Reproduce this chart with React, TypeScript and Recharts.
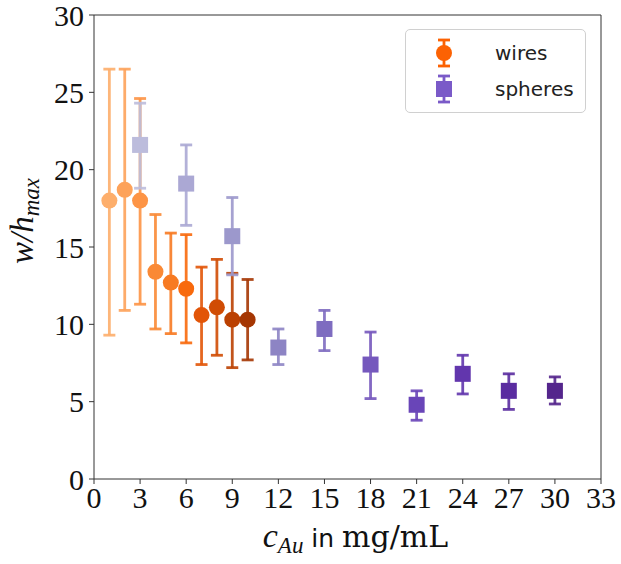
import { ScatterChart, Scatter, XAxis, YAxis, ErrorBar, ReferenceLine, Label } from "recharts";

const wiresX = [1, 2, 3, 4, 5, 6, 7, 8, 9, 10];
const wiresY = [18.0, 18.7, 18.0, 13.4, 12.7, 12.3, 10.6, 11.1, 10.3, 10.3];
const wiresLow = [9.3, 10.9, 11.3, 9.7, 9.4, 8.8, 7.4, 8.0, 7.2, 7.7];
const wiresHigh = [26.5, 26.5, 24.6, 17.1, 15.9, 15.8, 13.7, 14.2, 13.3, 12.9];
const wiresColors = ["#fdae6b", "#fda25a", "#fd9445", "#fa8935", "#f77a22", "#f8690c", "#e25508", "#d04c04", "#bb4102", "#a53603"];

const spheresX = [3, 6, 9, 12, 15, 18, 21, 24, 27, 30];
const spheresY = [21.6, 19.1, 15.7, 8.5, 9.7, 7.4, 4.8, 6.8, 5.7, 5.7];
const spheresLow = [18.8, 16.4, 13.2, 7.4, 8.3, 5.2, 3.8, 5.5, 4.5, 4.85];
const spheresHigh = [24.3, 21.6, 18.2, 9.7, 10.9, 9.5, 5.7, 8.0, 6.8, 6.6];
const spheresColors = ["#bcbcdc", "#aba8d4", "#9c98cc", "#8d84c4", "#7e6cc0", "#7558bd", "#6945b8", "#6236ad", "#5a2ca0", "#54258c"];

const xTicks = [0, 3, 6, 9, 12, 15, 18, 21, 24, 27, 30, 33];
const yTicks = [0, 5, 10, 15, 20, 25, 30];

const legendItems = [
  { name: "wires", color: "#fc6203", shape: "circle" },
  { name: "spheres", color: "#7a5ac8", shape: "square" },
];

const toPoints = (xs: number[], ys: number[], lo: number[], hi: number[]) =>
  xs.map((x, i) => ({ x, y: ys[i], err: [ys[i] - lo[i], hi[i] - ys[i]] }));

const wires = toPoints(wiresX, wiresY, wiresLow, wiresHigh);
const spheres = toPoints(spheresX, spheresY, spheresLow, spheresHigh);

const serif = "'Liberation Serif', 'Times New Roman', serif";
const axisColor = "#333";

const circleShape = (color: string) => (p: any) => <circle cx={p.cx} cy={p.cy} r={8} fill={color} />;
const squareShape = (color: string) => (p: any) => (
  <rect x={p.cx - 8} y={p.cy - 8} width={16} height={16} fill={color} />
);

const LegendIcon = ({ color, shape }: { color: string; shape: string }) => (
  <svg width={20} height={32} style={{ display: "block" }}>
    <line x1={10} y1={3} x2={10} y2={29} stroke={color} strokeWidth={2.8} />
    <line x1={4} y1={3} x2={16} y2={3} stroke={color} strokeWidth={2.8} />
    <line x1={4} y1={29} x2={16} y2={29} stroke={color} strokeWidth={2.8} />
    {shape === "circle" ? (
      <circle cx={10} cy={16} r={8} fill={color} />
    ) : (
      <rect x={2} y={8} width={16} height={16} fill={color} />
    )}
  </svg>
);

const ChartLegend = () => (
  <div
    style={{
      position: "absolute",
      left: 405,
      top: 29,
      border: "1px solid #d0d0d0",
      borderRadius: 5,
      background: "rgba(255,255,255,0.8)",
      padding: "5px 0",
      width: 181,
      boxSizing: "border-box",
    }}
  >
    {legendItems.map((it) => (
      <div key={it.name} style={{ display: "flex", alignItems: "center", height: 36 }}>
        <div style={{ width: 28 }} />
        <LegendIcon color={it.color} shape={it.shape} />
        <span style={{ marginLeft: 41, fontFamily: "'DejaVu Sans', sans-serif", fontSize: 20, color: "#222" }}>
          {it.name}
        </span>
      </div>
    ))}
  </div>
);

export default function App() {
  return (
    <div style={{ position: "absolute", left: 0, top: 0, width: 621, height: 564, background: "#fff" }}>
      <ScatterChart width={621} height={564} margin={{ top: 15, right: 20, bottom: 35, left: 34 }}>
        <XAxis
          type="number"
          dataKey="x"
          domain={[0, 33]}
          ticks={xTicks}
          interval={0}
          tickSize={5}
          tickMargin={3}
          height={50}
          stroke={axisColor}
          tick={{ fontFamily: serif, fontSize: 30, fill: "#111" }}
        >
          <Label
            content={({ viewBox }: any) => {
              const cx = viewBox.x + viewBox.width / 2 + 8;
              const y = viewBox.y + 68;
              return (
                <text x={cx} y={y} textAnchor="middle" fill="#111">
                  <tspan fontFamily={serif} fontStyle="italic" fontSize={34}>c</tspan>
                  <tspan fontFamily={serif} fontStyle="italic" fontSize={23} dy={6}>Au</tspan>
                  <tspan fontFamily="'DejaVu Sans', sans-serif" fontSize={25} dy={-6}> in </tspan>
                  <tspan fontFamily="'DejaVu Serif', serif" fontSize={30}>mg/mL</tspan>
                </text>
              );
            }}
          />
        </XAxis>
        <YAxis
          type="number"
          dataKey="y"
          domain={[0, 30]}
          ticks={yTicks}
          interval={0}
          tickSize={5}
          tickMargin={5}
          width={60}
          stroke={axisColor}
          tick={{ fontFamily: serif, fontSize: 30, fill: "#111" }}
        >
          <Label
            content={({ viewBox }: any) => {
              const x = 33;
              const y = viewBox.y + viewBox.height / 2 - 26;
              return (
                <text x={x} y={y} textAnchor="middle" fill="#111" transform={`rotate(-90, ${x}, ${y})`}>
                  <tspan fontFamily={serif} fontStyle="italic" fontSize={33}>w/h</tspan>
                  <tspan fontFamily={serif} fontStyle="italic" fontSize={23} dy={6}>max</tspan>
                </text>
              );
            }}
          />
        </YAxis>
        <ReferenceLine y={30} stroke={axisColor} />
        <ReferenceLine x={33} stroke={axisColor} />
        {wires.map((pt, i) => (
          <Scatter
            key={`w-${i}`}
            data={[pt]}
            fill={wiresColors[i]}
            shape={circleShape(wiresColors[i])}
            isAnimationActive={false}
          >
            <ErrorBar dataKey="err" direction="y" width={6} stroke={wiresColors[i]} strokeWidth={2.8} strokeOpacity={0.9} />
          </Scatter>
        ))}
        {spheres.map((pt, i) => (
          <Scatter
            key={`s-${i}`}
            data={[pt]}
            fill={spheresColors[i]}
            shape={squareShape(spheresColors[i])}
            isAnimationActive={false}
          >
            <ErrorBar dataKey="err" direction="y" width={6} stroke={spheresColors[i]} strokeWidth={2.8} strokeOpacity={0.9} />
          </Scatter>
        ))}
      </ScatterChart>
      <ChartLegend />
    </div>
  );
}
